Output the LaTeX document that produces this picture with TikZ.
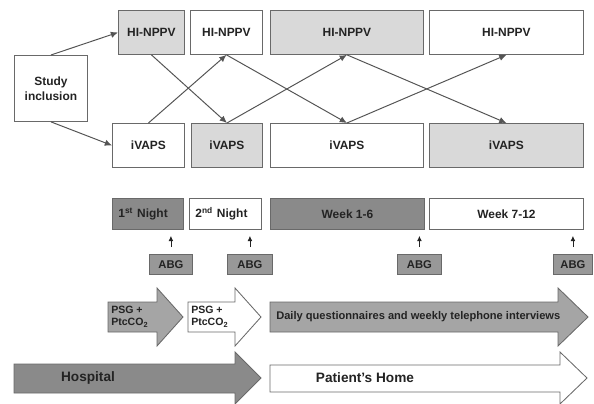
\documentclass[tikz,border=0pt]{standalone}
\usepackage{fontspec}
\setmainfont{Liberation Sans}
\usetikzlibrary{arrows.meta}
\definecolor{lightfill}{RGB}{217,217,217}
\definecolor{darkfill}{RGB}{138,138,138}
\definecolor{abgfill}{RGB}{152,152,152}
\definecolor{psgfill}{RGB}{165,165,165}
\definecolor{edge}{RGB}{105,105,105}
\definecolor{ink}{RGB}{35,35,35}

\begin{document}
\begin{tikzpicture}[
    x=0.025cm, y=-0.025cm,
    box/.style={
      draw=edge,
      line width=0.6pt,
      anchor=north west,
      align=center,
      font=\fontsize{8.5}{10.5}\selectfont\bfseries,
      text=ink,
      inner sep=0pt,
      minimum height=1.1cm
    },
    nightbox/.style={box, minimum height=0.775cm},
    abgbox/.style={box, fill=abgfill, minimum height=0.5cm, font=\fontsize{8}{10}\selectfont\bfseries},
    bigarrow/.style={draw=edge, line width=0.6pt},
    label/.style={text=ink, inner sep=0pt, align=left, font=\fontsize{7.5}{8.5}\selectfont\bfseries},
    link/.style={-{Latex[length=1.8mm, width=1.6mm]}, draw=edge!80!black, line width=0.7pt},
    tick/.style={-{Latex[length=1.3mm, width=1.2mm]}, draw=ink, line width=0.6pt,
      shorten <=0.175cm, shorten >=0.15cm}
  ]
    \useasboundingbox (0,0) rectangle (594,403);

    % therapy arms
    \node[box, minimum width=1.825cm, minimum height=1.65cm] (study) at (14,55) {Study\\inclusion};
    \node[box, fill=lightfill, minimum width=1.65cm] (hi1) at (118,10) {HI-NPPV};
    \node[box, minimum width=1.8cm] (hi2) at (190,10) {HI-NPPV};
    \node[box, fill=lightfill, minimum width=3.825cm] (hi3) at (270,10) {HI-NPPV};
    \node[box, minimum width=3.85cm] (hi4) at (429,10) {HI-NPPV};
    \node[box, minimum width=1.8cm] (iv1) at (112,123) {iVAPS};
    \node[box, fill=lightfill, minimum width=1.775cm] (iv2) at (191,123) {iVAPS};
    \node[box, minimum width=3.825cm] (iv3) at (270,123) {iVAPS};
    \node[box, fill=lightfill, minimum width=3.85cm] (iv4) at (429,123) {iVAPS};

    \draw[link] (study.north) -- (hi1.west);
    \draw[link] (study.south) -- (iv1.west);
    \draw[link] (hi1.south) -- (iv2.north);
    \draw[link] (iv1.north) -- (hi2.south);
    \draw[link] (hi2.south) -- (iv3.north);
    \draw[link] (iv2.north) -- (hi3.south);
    \draw[link] (hi3.south) -- (iv4.north);
    \draw[link] (iv3.north) -- (hi4.south);

    % time line
    \node[nightbox, fill=darkfill, minimum width=1.775cm, text width=1.475cm, inner xsep=0.15cm, align=left] (night1) at (112,198) {1\textsuperscript{st} Night};
    \node[nightbox, minimum width=1.8cm, text width=1.5cm, inner xsep=0.15cm, align=left] (night2) at (189,198) {2\textsuperscript{nd} Night};
    \node[nightbox, fill=darkfill, minimum width=3.85cm] (week1) at (270,198) {Week 1-6};
    \node[nightbox, minimum width=3.85cm] (week2) at (429,198) {Week 7-12};

    \node[abgbox, minimum width=1.075cm] (abg1) at (149,254) {ABG};
    \node[abgbox, minimum width=1.125cm] (abg2) at (227,254) {ABG};
    \node[abgbox, minimum width=1.1cm] (abg3) at (397,254) {ABG};
    \node[abgbox, minimum width=0.975cm] (abg4) at (553,254) {ABG};

    \draw[tick] (abg1.north) -- (abg1.north |- night1.south);
    \draw[tick] (abg2.north) -- (abg2.north |- night2.south);
    \draw[tick] (abg3.north) -- (abg3.north |- week1.south);
    \draw[tick] (abg4.north) -- (abg4.north |- week2.south);

    % measurements
    \draw[bigarrow, fill=psgfill] (108,302) -- (157,302) -- (157,288) -- (183,317) -- (157,346) -- (157,332) -- (108,332) -- cycle;
    \draw[bigarrow, fill=white] (188,302) -- (235,302) -- (235,288) -- (261,317) -- (235,346) -- (235,332) -- (188,332) -- cycle;
    \draw[bigarrow, fill=psgfill] (270,302) -- (558,302) -- (558,288) -- (588,317) -- (558,346) -- (558,332) -- (270,332) -- cycle;
    \node[label, anchor=west] (psg1) at (111,317) {PSG +\\PtcCO\textsubscript{2}};
    \node[label, anchor=west] (psg2) at (191,317) {PSG +\\PtcCO\textsubscript{2}};
    \node[label, anchor=west, font=\fontsize{7.9}{9.5}\selectfont\bfseries] (daily) at (276,317) {Daily questionnaires and weekly telephone interviews};

    % setting
    \draw[bigarrow, fill=darkfill] (14,364) -- (235,364) -- (235,352) -- (261,378) -- (235,404) -- (235,393) -- (14,393) -- cycle;
    \draw[bigarrow, fill=white] (270,365) -- (560,365) -- (560,352) -- (587,378) -- (560,404) -- (560,392) -- (270,392) -- cycle;
    \node[label, font=\fontsize{9.7}{11}\selectfont\bfseries] (hospital) at (88,378) {Hospital};
    \node[label, font=\fontsize{9.7}{11}\selectfont\bfseries] (home) at (365,378) {Patient's Home};
  \end{tikzpicture}
\end{document}
